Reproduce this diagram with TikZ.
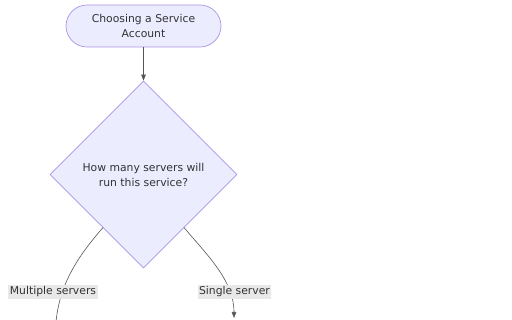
\documentclass[tikz,border=0pt]{standalone}
\usepackage{fontspec}
\setmainfont{DejaVu Sans}
\usetikzlibrary{shapes.geometric,arrows.meta}
\definecolor{nodefill}{HTML}{ECECFF}
\definecolor{nodeline}{HTML}{A993E6}
\definecolor{ink}{HTML}{333333}
\definecolor{edgeink}{HTML}{555555}
\definecolor{lblbg}{HTML}{E8E8E8}
\tikzset{
  txt/.style={font=\fontsize{10.8}{15}\selectfont, text=ink, align=center},
  startbox/.style={txt, draw=nodeline, fill=nodefill, line width=0.7pt, rounded corners=21pt,
    minimum width=155pt, minimum height=42pt, inner sep=0pt},
  decision/.style={txt, draw=nodeline, fill=nodefill, line width=0.7pt, diamond, aspect=1,
    minimum width=187pt, minimum height=187pt, inner sep=0pt},
  link/.style={draw=edgeink, line width=0.6pt},
  arrowed/.style={link, -{Triangle[length=6pt,width=4.5pt]}},
  edgelbl/.style={txt, fill=lblbg, inner xsep=1.5pt, inner ysep=1.5pt}
}
\begin{document}
\begin{tikzpicture}[x=1pt,y=-1pt]
\useasboundingbox (0,0) rectangle (512,320);
\node[startbox] (start) at (143.5,26) {Choosing a Service\\Account};
\node[decision] (q) at (143.5,174.5) {How many servers will\\run this service?};
\coordinate (lstart) at (103,227.5);
\coordinate (rstart) at (184,227.5);
\coordinate (lend) at (56,322);
\coordinate (rend) at (234,318);
\draw[arrowed] (start.south) -- (q.north);
\draw[link] (lstart) .. controls (82,252) and (60,280) .. (lend);
\draw[arrowed] (rstart) .. controls (206,254) and (234,280) .. (rend);
\node[edgelbl] (lm) at (53,292) {Multiple servers};
\node[edgelbl] (ls) at (234.5,292) {Single server};
\end{tikzpicture}
\end{document}
